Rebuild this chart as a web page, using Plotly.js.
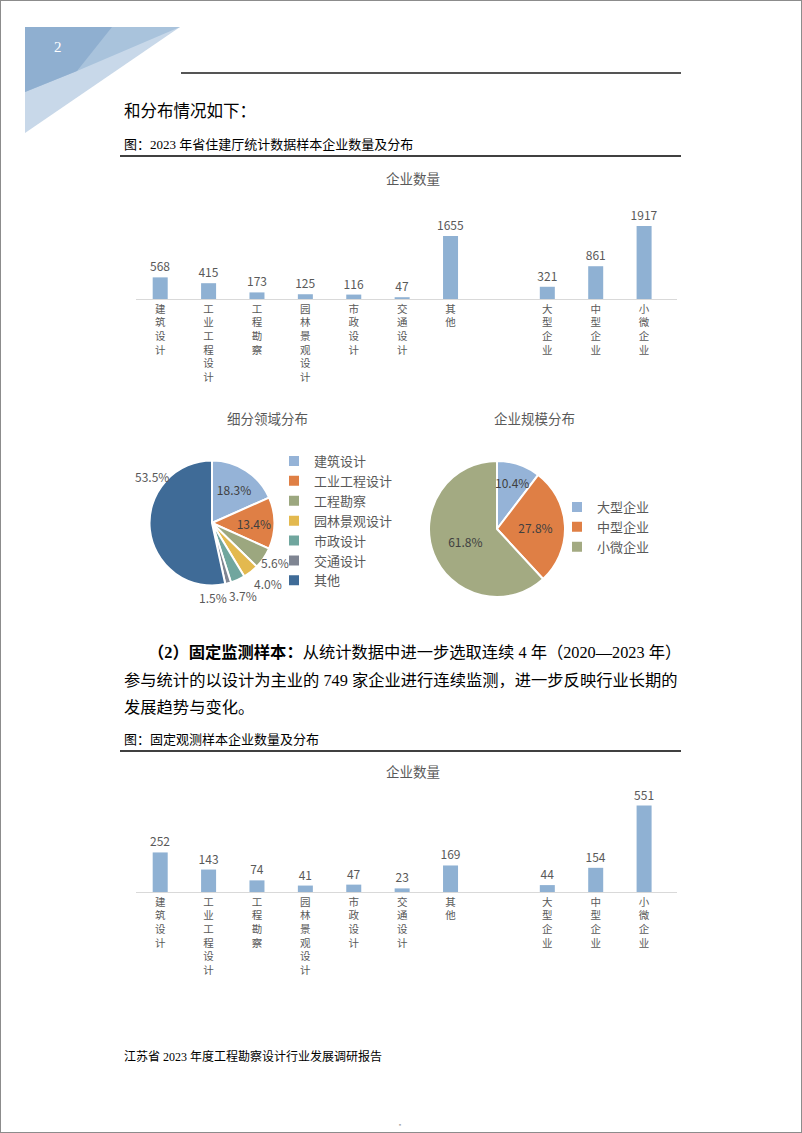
<!DOCTYPE html>
<html>
<head>
<meta charset="utf-8">
<script src="https://cdn.plot.ly/plotly-3.0.1.min.js"></script>
<style>
html,body{margin:0;padding:0;background:#fff;}
#chart{width:802px;height:1133px;}
</style>
</head>
<body>
<div id="chart"></div>
<script>
// ---------- data ----------
const categories = ['建筑设计','工业工程设计','工程勘察','园林景观设计','市政设计','交通设计','其他',' ','大型企业','中型企业','小微企业'];
const counts2023 = [568,415,173,125,116,47,1655,null,321,861,1917];
const countsFixed = [252,143,74,41,47,23,169,null,44,154,551];

const fieldLabels = ['建筑设计','工业工程设计','工程勘察','园林景观设计','市政设计','交通设计','其他'];
const fieldValues = [568,415,173,125,116,47,1655];
const fieldPctText = ['18.3%','13.4%','5.6%','4.0%','3.7%','1.5%','53.5%'];
const fieldColors = ['#95B3D7','#DF7F45','#9CA77F','#E3B94F','#70A69E','#7F8592','#3F6B97'];

const scaleLabels = ['大型企业','中型企业','小微企业'];
const scaleValues = [321,861,1917];
const scalePctText = ['10.4%','27.8%','61.8%'];
const scaleColors = ['#95B3D7','#DF7F45','#A3AA82'];

const barTitle = '企业数量';
const pieTitle1 = '细分领域分布';
const pieTitle2 = '企业规模分布';

// ---------- helpers (page pixel -> paper) ----------
const W = 802, H = 1133;
const X = x => x / W;
const Y = y => 1 - y / H;

const tickText = categories.map(c => c.trim() ? c.split('').join('<br>') : '');
const CHART_FONT = 'Noto Sans CJK SC, Noto Sans, sans-serif';
const BODY_FONT = 'Liberation Serif, Noto Sans CJK SC, serif';
const GREY = '#595959';
const BAR_COLOR = '#8FB1D3';

// slices whose label Plotly places inside; the others are labelled beside/over the pie (best-fit style)
const fieldInside = [true, true, false, false, false, false, false];
const fieldLabelPos = [null, null, [275,562], [268,583], [243,595], [213,597], [152,476]];
const scaleInside = [false, true, true];
const scaleLabelPos = [[512,482], null, null];

const traces = [
  {
    type: 'bar', x: categories, y: counts2023, xaxis: 'x', yaxis: 'y',
    marker: {color: BAR_COLOR}, showlegend: false,
    text: counts2023.map(v => v == null ? '' : String(v)),
    textposition: 'outside', cliponaxis: false, constraintext: 'none',
    textfont: {family: CHART_FONT, size: 12, color: GREY},
    hoverinfo: 'x+y'
  },
  {
    type: 'bar', x: categories, y: countsFixed, xaxis: 'x2', yaxis: 'y2',
    marker: {color: BAR_COLOR}, showlegend: false,
    text: countsFixed.map(v => v == null ? '' : String(v)),
    textposition: 'outside', cliponaxis: false, constraintext: 'none',
    textfont: {family: CHART_FONT, size: 12, color: GREY},
    hoverinfo: 'x+y'
  },
  {
    type: 'pie', labels: fieldLabels, values: fieldValues,
    text: fieldPctText, textinfo: 'text', sort: false,
    direction: 'clockwise', rotation: 0,
    textposition: fieldInside.map(f => f ? 'inside' : 'none'),
    insidetextorientation: 'horizontal',
    insidetextfont: {family: CHART_FONT, size: 12, color: '#404040'},
    marker: {colors: fieldColors, line: {color: '#ffffff', width: 2}},
    domain: {x: [X(149.5), X(274.5)], y: [Y(585.5), Y(460.5)]},
    legend: 'legend', showlegend: true
  },
  {
    type: 'pie', labels: scaleLabels, values: scaleValues,
    text: scalePctText, textinfo: 'text', sort: false,
    direction: 'clockwise', rotation: 0,
    textposition: scaleInside.map(f => f ? 'inside' : 'none'),
    insidetextorientation: 'horizontal',
    insidetextfont: {family: CHART_FONT, size: 12, color: '#404040'},
    marker: {colors: scaleColors, line: {color: '#ffffff', width: 2}},
    domain: {x: [X(429), X(565)], y: [Y(597), Y(461)]},
    legend: 'legend2', showlegend: true
  }
];

const xAxisCommon = {
  type: 'category', domain: [X(136), X(677)], range: [-0.5, 10.68],
  showline: true, linecolor: '#D9D9D9', linewidth: 1,
  showgrid: false, zeroline: false, ticks: '',
  tickmode: 'array', tickvals: categories, ticktext: tickText,
  tickfont: {family: CHART_FONT, size: 10.5, color: GREY},
  tickangle: 0, fixedrange: true
};
const yAxisCommon = {showgrid: false, zeroline: false, showticklabels: false, showline: false, ticks: '', fixedrange: true};

const ann = (text, x, y, size, opts) => Object.assign({
  text, x: X(x), y: Y(y), xref: 'paper', yref: 'paper',
  showarrow: false, xanchor: 'left', yanchor: 'middle',
  font: {family: BODY_FONT, size, color: '#000'}
}, opts || {});
const chartAnn = (text, x, y, size, color) => ann(text, x, y, size, {xanchor: 'center', font: {family: CHART_FONT, size, color: color || GREY}});

const annotations = [
  ann('2', 58, 47, 15, {xanchor: 'center', font: {family: 'Liberation Serif, serif', size: 15, color: '#ffffff'}}),
  ann('和分布情况如下：', 122, 111, 16.5),
  ann('图：2023 年省住建厅统计数据样本企业数量及分布', 122, 144, 13),
  chartAnn(barTitle, 413, 178, 13.5),
  chartAnn(pieTitle1, 267, 418, 13.5),
  chartAnn(pieTitle2, 534, 418, 13.5),
  ann('<b>（2）固定监测样本：</b>从统计数据中进一步选取连续 4 年（2020—2023 年）', 146, 652, 16.3),
  ann('参与统计的以设计为主业的 749 家企业进行连续监测，进一步反映行业长期的', 122, 680, 16.3),
  ann('发展趋势与变化。', 122, 707, 16.3),
  ann('图：固定观测样本企业数量及分布', 122, 739, 13),
  chartAnn(barTitle, 413, 771, 13.5),
  ann('江苏省 2023 年度工程勘察设计行业发展调研报告', 122, 1056, 12),
  chartAnn('▪', 400, 1124, 6, '#aaaaaa')
];
fieldPctText.forEach((t, i) => {
  if (!fieldInside[i]) annotations.push(chartAnn(t, fieldLabelPos[i][0], fieldLabelPos[i][1], 12));
});
scalePctText.forEach((t, i) => {
  if (!scaleInside[i]) annotations.push(chartAnn(t, scaleLabelPos[i][0], scaleLabelPos[i][1], 12, '#404040'));
});

const P = (pts) => 'M' + pts.map(p => X(p[0]) + ',' + Y(p[1])).join(' L') + ' Z';
const shapes = [
  // page border
  {type: 'rect', xref: 'paper', yref: 'paper', x0: 0, x1: 1, y0: 0, y1: 1, line: {color: '#8C8C8C', width: 2}},
  // header decoration
  {type: 'path', xref: 'paper', yref: 'paper', path: P([[25,27],[180,27],[25,133]]), fillcolor: '#C8D8E9', line: {width: 0}},
  {type: 'path', xref: 'paper', yref: 'paper', path: P([[25,27],[180,27],[77,71],[25,92]]), fillcolor: '#A9C3DC', line: {width: 0}},
  {type: 'path', xref: 'paper', yref: 'paper', path: P([[25,27],[112,27],[77,71],[25,92]]), fillcolor: '#8FAFD0', line: {width: 0}},
  // header rule
  {type: 'line', xref: 'paper', yref: 'paper', x0: X(181), x1: X(681), y0: Y(73), y1: Y(73), line: {color: '#555555', width: 2}},
  // caption rules
  {type: 'line', xref: 'paper', yref: 'paper', x0: X(120), x1: X(681), y0: Y(156), y1: Y(156), line: {color: '#000000', width: 1.3}},
  {type: 'line', xref: 'paper', yref: 'paper', x0: X(120), x1: X(681), y0: Y(751), y1: Y(751), line: {color: '#000000', width: 1.3}}
];

const legendCommon = {
  xanchor: 'left', yanchor: 'top', bgcolor: 'rgba(0,0,0,0)', borderwidth: 0,
  font: {family: CHART_FONT, size: 13, color: GREY}, itemclick: false, itemdoubleclick: false
};

const layout = {
  width: W, height: H,
  margin: {l: 0, r: 0, t: 0, b: 0},
  paper_bgcolor: '#ffffff', plot_bgcolor: 'rgba(0,0,0,0)',
  bargap: 0.69,
  xaxis: Object.assign({}, xAxisCommon, {anchor: 'y'}),
  yaxis: Object.assign({}, yAxisCommon, {domain: [Y(299), Y(200)], range: [0, 2600], anchor: 'x'}),
  xaxis2: Object.assign({}, xAxisCommon, {anchor: 'y2'}),
  yaxis2: Object.assign({}, yAxisCommon, {domain: [Y(892), Y(792)], range: [0, 637], anchor: 'x2'}),
  legend: Object.assign({}, legendCommon, {x: X(274), y: Y(446)}),
  legend2: Object.assign({}, legendCommon, {x: X(557), y: Y(492)}),
  annotations, shapes,
  font: {family: CHART_FONT}
};

Plotly.newPlot('chart', traces, layout, {staticPlot: true, displayModeBar: false});
</script>
</body>
</html>
